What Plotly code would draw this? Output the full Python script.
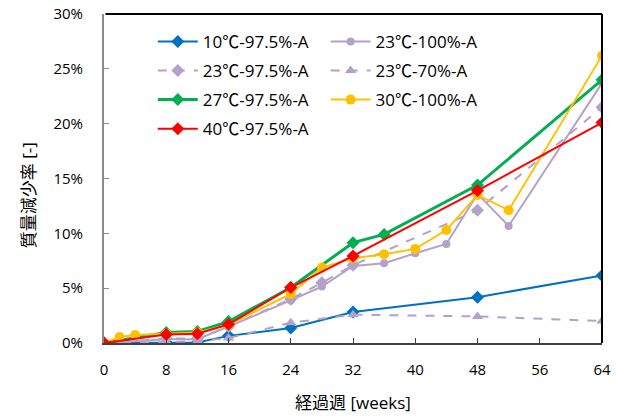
import plotly.graph_objects as go

# ---- data (weeks, mass-loss %) ----
w_10_975 = [0, 8, 12, 16, 24, 32, 48, 64]
v_10_975 = [0.0, 0.05, 0.05, 0.65, 1.36, 2.82, 4.18, 6.15]

w_23_100 = [0, 8, 12, 16, 24, 28, 32, 36, 40, 44, 48, 52, 64]
v_23_100 = [0.0, 0.35, 0.35, 1.5, 3.88, 5.15, 7.03, 7.27, 8.18, 9.03, 13.6, 10.67, 23.7]

w_23_975 = [0, 8, 12, 16, 24, 28, 32, 48, 64]
v_23_975 = [0.0, 0.4, 0.4, 1.5, 4.0, 5.5, 7.1, 12.1, 21.5]

w_23_70 = [0, 8, 12, 16, 24, 32, 48, 64]
v_23_70 = [0.0, 0.12, 0.15, 0.45, 1.85, 2.58, 2.42, 2.0]

w_27_975 = [0, 8, 12, 16, 24, 32, 36, 48, 64]
v_27_975 = [0.0, 0.95, 1.05, 1.95, 5.06, 9.15, 9.9, 14.4, 24.0]

w_30_100 = [0, 2, 4, 8, 12, 16, 24, 28, 32, 36, 40, 44, 48, 52, 64]
v_30_100 = [0.0, 0.55, 0.72, 0.85, 0.95, 1.67, 4.48, 6.88, 7.73, 8.09, 8.58, 10.3, 13.5, 12.1, 26.2]

w_40_975 = [0, 8, 12, 16, 24, 32, 48, 64]
v_40_975 = [0.0, 0.78, 0.85, 1.7, 5.06, 7.94, 13.9, 20.1]

names = ["10℃-97.5%-A", "23℃-100%-A", "23℃-97.5%-A", "23℃-70%-A",
         "27℃-97.5%-A", "30℃-100%-A", "40℃-97.5%-A"]

x_ticks = [0, 8, 16, 24, 32, 40, 48, 56, 64]
y_ticks = [0, 5, 10, 15, 20, 25, 30]
y_tick_text = ["0%", "5%", "10%", "15%", "20%", "25%", "30%"]

BLUE = "#0070C0"
LAV = "#B3A2C7"
GREEN = "#00B050"
YEL = "#FFC000"
RED = "#FF0000"

# (x, y, name, colour, dash, symbol, marker size, line width, legend column)
series = [
    (w_10_975, v_10_975, names[0], BLUE, "solid", "diamond", 10, 2, "legend"),
    (w_23_100, v_23_100, names[1], LAV, "solid", "circle", 8, 2, "legend2"),
    (w_23_975, v_23_975, names[2], LAV, "dash", "diamond", 10, 2, "legend"),
    (w_23_70, v_23_70, names[3], LAV, "dash", "triangle-up", 10, 2, "legend2"),
    (w_27_975, v_27_975, names[4], GREEN, "solid", "diamond", 10, 3, "legend"),
    (w_30_100, v_30_100, names[5], YEL, "solid", "circle", 10, 2, "legend2"),
    (w_40_975, v_40_975, names[6], RED, "solid", "diamond", 10, 2, "legend"),
]

FONT = "Open Sans, Noto Sans CJK JP, sans-serif"

fig = go.Figure()
for i, (xs, ys, nm, col, dash, sym, ms, lw, lg) in enumerate(series):
    fig.add_trace(go.Scatter(
        x=xs, y=ys, name=nm, mode="lines+markers",
        line=dict(color=col, width=lw, dash=dash),
        marker=dict(color=col, symbol=sym, size=ms),
        legend=lg, legendgroup="g%d" % i,
    ))

leg_common = dict(
    orientation="v", yanchor="top", xanchor="left",
    font=dict(family=FONT, size=17, color="black"),
    bgcolor="rgba(0,0,0,0)", itemwidth=40, tracegroupgap=4,
)

fig.update_layout(
    width=622, height=416,
    margin=dict(l=104, r=20, t=14, b=73),
    paper_bgcolor="white", plot_bgcolor="white",
    font=dict(family=FONT, size=15, color="black"),
    showlegend=True,
    legend=dict(x=0.098, y=0.97, **leg_common),
    legend2=dict(x=0.445, y=0.97, **leg_common),
    xaxis=dict(
        range=[0, 64], tickvals=x_ticks, ticktext=[str(v) for v in x_ticks],
        showgrid=False, zeroline=False, automargin=False,
        showline=True, linecolor="#404040", linewidth=2,
        ticks="inside", ticklen=5, tickcolor="#404040", tickwidth=1,
        ticklabelstandoff=12,
        tickfont=dict(family=FONT, size=15, color="black"),
    ),
    yaxis=dict(
        range=[0, 30], tickvals=y_ticks, ticktext=y_tick_text,
        showgrid=False, zeroline=False, automargin=False,
        showline=True, linecolor="#8C8C8C", linewidth=2,
        ticks="inside", ticklen=5, tickcolor="#8C8C8C", tickwidth=1,
        ticklabelstandoff=16,
        tickfont=dict(family=FONT, size=15, color="black"),
    ),
    shapes=[
        dict(type="line", xref="paper", yref="paper", x0=0.003, x1=1, y0=1, y1=1,
             line=dict(color="black", width=2)),
        dict(type="line", xref="paper", yref="paper", x0=1, x1=1, y0=0, y1=1,
             line=dict(color="black", width=2)),
    ],
    annotations=[
        dict(text="経過週 [weeks]", xref="paper", yref="paper", x=0.5, y=-0.18,
             xanchor="center", yanchor="middle", showarrow=False,
             font=dict(family=FONT, size=17, color="black")),
        dict(text="質量減少率 [-]", xref="paper", yref="paper", x=-0.15, y=0.45,
             xanchor="center", yanchor="middle", showarrow=False, textangle=-90,
             font=dict(family=FONT, size=17, color="black")),
    ],
)

fig.write_html("out.html")
